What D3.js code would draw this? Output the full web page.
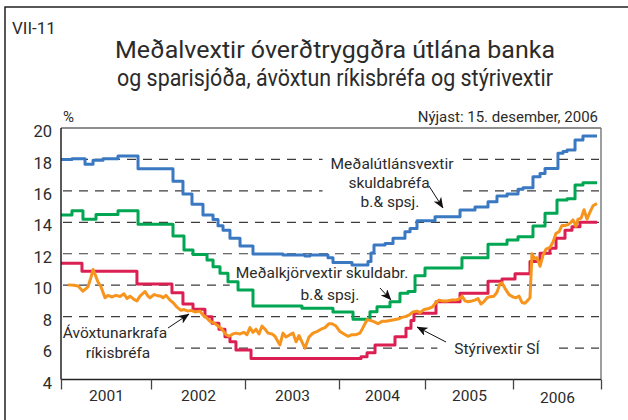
<!DOCTYPE html>
<html>
<head>
<meta charset="utf-8">
<script src="https://cdn.jsdelivr.net/npm/d3@7"></script>
<style>
  body { margin: 0; background: #fff; }
  svg { display: block; }
  text { font-family: Roboto, "Noto Sans", sans-serif; fill: #2b2b2b; }
</style>
</head>
<body>
<svg id="chart" width="628" height="420"></svg>
<script>
// ---- Data: interest rates (%) by decimal year ----
const yearEdges = [2001, 2002, 2003, 2004, 2005, 2006, 2007];
const yearLabels = ["2001", "2002", "2003", "2004", "2005", "2006"];
const yTicks = [4, 6, 8, 10, 12, 14, 16, 18, 20];
const gridValues = [6, 8, 10, 12, 14, 16, 18];

// Meðalútlánsvextir skuldabréfa b.& spsj. (step changes)
const lendingRate = [
  [2001.000, 18.0], [2001.122, 18.05], [2001.267, 17.7], [2001.356, 17.95],
  [2001.467, 18.05], [2001.633, 18.22], [2001.856, 17.4], [2002.234, 16.62],
  [2002.340, 15.8], [2002.436, 15.15], [2002.553, 14.46], [2002.660, 14.18],
  [2002.713, 13.78], [2002.766, 13.5], [2002.840, 12.98], [2002.947, 12.49],
  [2003.085, 11.98], [2003.404, 11.92], [2003.638, 11.85], [2003.691, 11.92],
  [2003.883, 11.75], [2003.936, 11.45], [2004.151, 11.28], [2004.337, 11.5],
  [2004.372, 12.05], [2004.407, 12.55], [2004.535, 12.65], [2004.628, 12.98],
  [2004.767, 13.4], [2004.826, 13.6], [2004.907, 14.1], [2005.114, 14.36],
  [2005.398, 14.78], [2005.568, 14.97], [2005.716, 15.31], [2005.818, 15.67],
  [2005.932, 15.8], [2006.057, 16.1], [2006.114, 16.2], [2006.227, 16.9],
  [2006.307, 17.1], [2006.364, 17.43], [2006.511, 18.39], [2006.568, 18.5],
  [2006.614, 18.6], [2006.705, 19.24], [2006.795, 19.49], [2006.955, 19.49]
];

// Meðalkjörvextir skuldabr. b.& spsj. (step changes)
const primeRate = [
  [2001.000, 14.46], [2001.122, 14.74], [2001.244, 14.19], [2001.389, 14.5],
  [2001.633, 14.74], [2001.856, 13.87], [2002.234, 13.13], [2002.351, 12.24],
  [2002.447, 11.95], [2002.596, 11.6], [2002.660, 11.18], [2002.734, 10.76],
  [2002.819, 10.22], [2002.926, 9.69], [2003.085, 8.68], [2003.606, 8.53],
  [2003.936, 8.3], [2004.163, 7.83], [2004.360, 8.31], [2004.442, 8.63],
  [2004.593, 8.95], [2004.709, 9.48], [2004.802, 9.6], [2004.884, 10.6],
  [2005.000, 11.1], [2005.420, 11.75], [2005.716, 12.6], [2005.932, 12.87],
  [2006.057, 13.08], [2006.227, 13.77], [2006.364, 14.57], [2006.500, 15.42],
  [2006.614, 15.5], [2006.705, 16.37], [2006.795, 16.52], [2006.955, 16.52]
];

// Stýrivextir SÍ (step changes)
const policyRate = [
  [2001.000, 11.39], [2001.233, 10.88], [2001.844, 10.07], [2002.223, 9.52],
  [2002.340, 8.8], [2002.447, 8.47], [2002.574, 8.0], [2002.649, 7.58],
  [2002.723, 7.2], [2002.787, 6.72], [2002.840, 6.4], [2002.904, 5.88],
  [2003.064, 5.33], [2004.256, 5.45], [2004.326, 5.7], [2004.419, 6.19],
  [2004.651, 6.72], [2004.779, 7.26], [2004.837, 7.75], [2004.872, 8.21],
  [2005.125, 8.95], [2005.398, 9.48], [2005.716, 10.25], [2005.875, 10.4],
  [2006.023, 10.72], [2006.193, 11.5], [2006.307, 12.03], [2006.420, 12.35],
  [2006.489, 12.98], [2006.591, 13.5], [2006.670, 13.72], [2006.761, 14.0],
  [2006.955, 14.0]
];

// Ávöxtunarkrafa ríkisbréfa (weekly yields)
const bondYield = [
  [2001.078, 10.02], [2001.144, 10.0], [2001.189, 9.95], [2001.244, 9.62],
  [2001.300, 9.9], [2001.333, 10.5], [2001.356, 11.0], [2001.378, 10.7],
  [2001.411, 10.2], [2001.444, 9.9], [2001.489, 9.2], [2001.522, 9.35],
  [2001.567, 9.25], [2001.611, 9.35], [2001.656, 9.28], [2001.700, 9.45],
  [2001.733, 9.15], [2001.767, 9.3], [2001.811, 9.1], [2001.844, 9.0],
  [2001.878, 9.3], [2001.933, 9.6], [2001.967, 9.3], [2001.989, 9.2],
  [2002.032, 9.4], [2002.064, 9.35], [2002.106, 9.3], [2002.128, 9.2],
  [2002.160, 9.35], [2002.202, 9.05], [2002.234, 8.9], [2002.277, 8.6],
  [2002.319, 8.4], [2002.351, 8.45], [2002.394, 8.35], [2002.426, 8.4],
  [2002.468, 8.3], [2002.521, 8.35], [2002.553, 8.1], [2002.596, 7.9],
  [2002.628, 7.7], [2002.670, 7.6], [2002.713, 7.4], [2002.755, 7.2],
  [2002.798, 6.85], [2002.830, 6.75], [2002.872, 6.9], [2002.904, 6.95],
  [2002.947, 6.9], [2002.989, 7.0], [2003.021, 6.85], [2003.053, 7.3],
  [2003.085, 7.0], [2003.117, 7.2], [2003.149, 6.9], [2003.181, 7.4],
  [2003.213, 7.2], [2003.245, 6.95], [2003.287, 6.9], [2003.319, 6.75],
  [2003.351, 6.4], [2003.372, 6.2], [2003.404, 6.95], [2003.436, 6.7],
  [2003.479, 6.85], [2003.511, 6.95], [2003.543, 6.4], [2003.574, 6.8],
  [2003.606, 6.4], [2003.638, 6.0], [2003.681, 6.7], [2003.723, 6.95],
  [2003.766, 7.05], [2003.809, 7.2], [2003.851, 7.3], [2003.894, 7.55],
  [2003.926, 7.55], [2003.968, 7.4], [2004.012, 7.05], [2004.058, 6.9],
  [2004.105, 6.75], [2004.151, 6.85], [2004.198, 6.85], [2004.244, 6.95],
  [2004.279, 7.3], [2004.326, 7.8], [2004.372, 7.75], [2004.419, 7.65],
  [2004.453, 7.55], [2004.500, 7.7], [2004.547, 7.7], [2004.593, 7.75],
  [2004.640, 7.8], [2004.686, 7.85], [2004.733, 7.95], [2004.767, 8.0],
  [2004.814, 8.1], [2004.860, 8.3], [2004.907, 8.35], [2004.942, 8.25],
  [2004.988, 8.45], [2005.034, 8.5], [2005.080, 8.6], [2005.125, 8.9],
  [2005.159, 9.05], [2005.205, 9.0], [2005.250, 9.0], [2005.295, 9.05],
  [2005.341, 9.05], [2005.386, 9.1], [2005.420, 9.3], [2005.455, 9.0],
  [2005.489, 8.95], [2005.534, 9.0], [2005.568, 9.05], [2005.602, 9.15],
  [2005.636, 8.8], [2005.670, 8.95], [2005.705, 9.2], [2005.739, 9.27],
  [2005.784, 9.3], [2005.818, 9.55], [2005.852, 10.1], [2005.875, 10.15],
  [2005.909, 9.8], [2005.955, 9.4], [2006.000, 9.25], [2006.034, 9.2],
  [2006.068, 9.3], [2006.102, 8.9], [2006.136, 8.85], [2006.170, 9.05],
  [2006.193, 9.2], [2006.216, 12.0], [2006.239, 11.7], [2006.273, 11.75],
  [2006.307, 11.2], [2006.341, 11.9], [2006.375, 12.3], [2006.420, 12.4],
  [2006.455, 12.75], [2006.489, 13.3], [2006.523, 13.4], [2006.557, 13.8],
  [2006.591, 13.8], [2006.625, 13.85], [2006.659, 14.0], [2006.682, 14.15],
  [2006.716, 13.75], [2006.739, 14.2], [2006.773, 14.25], [2006.807, 14.8],
  [2006.841, 14.2], [2006.875, 14.65], [2006.909, 15.05], [2006.955, 15.2]
];

// ---- Layout ----
const W = 628, H = 420;
const plot = { left: 61, right: 601, top: 128, bottom: 379.5 };
// year boundaries on the horizontal axis
const yearStops = [61, 151, 245, 339, 425, 513, 601];

const colors = {
  lending: "#3a78c2",
  prime: "#00a651",
  policy: "#dc1f52",
  bond: "#f7941d",
  grid: "#3c3c3c",
  axis: "#222",
  frame: "#6a6a6a"
};

const svg = d3.select("#chart");
svg.append("rect").attr("width", W).attr("height", H).attr("fill", "#fff");

const x = d3.scaleLinear().domain(yearEdges).range(yearStops);
const y = d3.scaleLinear().domain([4, 20]).range([plot.bottom, plot.top]);

// outer frame (top and left edges)
svg.append("path")
  .attr("d", `M5,${H} V7 H${W}`)
  .attr("fill", "none").attr("stroke", "#222").attr("stroke-width", 1.5);

// chart number and title
svg.append("text").attr("x", 12).attr("y", 34)
  .attr("font-size", 17).text("VII-11");
const title = svg.append("g");
title.append("text").attr("x", 115).attr("y", 58).attr("font-size", 24.5)
  .attr("textLength", 440).attr("lengthAdjust", "spacingAndGlyphs")
  .text("Meðalvextir óverðtryggðra útlána banka");
title.append("text").attr("x", 117).attr("y", 86).attr("font-size", 23)
  .attr("textLength", 436).attr("lengthAdjust", "spacingAndGlyphs")
  .text("og sparisjóða, ávöxtun ríkisbréfa og stýrivextir");

svg.append("text").attr("x", 63).attr("y", 122).attr("font-size", 15).text("%");
svg.append("text").attr("x", 598).attr("y", 122).attr("text-anchor", "end")
  .attr("font-size", 15).text("Nýjast: 15. desember, 2006");

// dashed gridlines
svg.append("g").selectAll("line").data(gridValues).join("line")
  .attr("x1", plot.left + 2).attr("x2", plot.right - 2)
  .attr("y1", d => y(d)).attr("y2", d => y(d))
  .attr("stroke", colors.grid).attr("stroke-width", 1.2)
  .attr("stroke-dasharray", "9,7");

// layers: label knock-out boxes sit under the lines, label text above
const boxLayer = svg.append("g");
const lineLayer = svg.append("g");
const axisLayer = svg.append("g");
const labelLayer = svg.append("g");

// series
const stepLine = d3.line().x(d => x(d[0])).y(d => y(d[1])).curve(d3.curveStepAfter);
const plainLine = d3.line().x(d => x(d[0])).y(d => y(d[1]));

[
  { data: policyRate, color: colors.policy, gen: stepLine },
  { data: primeRate, color: colors.prime, gen: stepLine },
  { data: lendingRate, color: colors.lending, gen: stepLine },
  { data: bondYield, color: colors.bond, gen: plainLine }
].forEach(s => {
  lineLayer.append("path").attr("d", s.gen(s.data))
    .attr("fill", "none").attr("stroke", s.color)
    .attr("stroke-width", 3).attr("stroke-linejoin", "round");
});

// plot frame
axisLayer.append("line").attr("x1", plot.left).attr("x2", plot.right)
  .attr("y1", plot.top).attr("y2", plot.top)
  .attr("stroke", colors.frame).attr("stroke-width", 1.3);
axisLayer.append("line").attr("x1", plot.right).attr("x2", plot.right)
  .attr("y1", plot.top).attr("y2", plot.bottom)
  .attr("stroke", colors.frame).attr("stroke-width", 1.3);
axisLayer.append("line").attr("x1", plot.left).attr("x2", plot.left)
  .attr("y1", plot.top).attr("y2", plot.bottom)
  .attr("stroke", colors.axis).attr("stroke-width", 1.5);
axisLayer.append("line").attr("x1", plot.left).attr("x2", plot.right)
  .attr("y1", plot.bottom).attr("y2", plot.bottom)
  .attr("stroke", colors.axis).attr("stroke-width", 1.3);

// x axis: tick marks at year boundaries
const xAxis = axisLayer.append("g").attr("transform", `translate(0,${plot.bottom})`)
  .call(d3.axisBottom(x).tickValues(yearEdges).tickSize(10).tickFormat(""));
xAxis.select(".domain").remove();
xAxis.selectAll(".tick line").attr("stroke", "#444").attr("stroke-width", 1.3);

// year labels centred in each year
const xLabels = axisLayer.append("g").attr("transform", `translate(0,${plot.bottom})`)
  .call(d3.axisBottom(x).tickValues(yearEdges.slice(0, -1).map(d => d + 0.5))
    .tickSize(0).tickPadding(9).tickFormat((d, i) => yearLabels[i]));
xLabels.select(".domain").remove();
xLabels.selectAll("text").attr("font-size", 15.5).attr("fill", "#2b2b2b")
  .attr("font-family", "Roboto, 'Noto Sans', sans-serif")
  .attr("dy", (d, i) => i === yearLabels.length - 1 ? "0.95em" : "0.8em");

// y axis labels
const yAxis = axisLayer.append("g").attr("transform", `translate(${plot.left},0)`)
  .call(d3.axisLeft(y).tickValues(yTicks).tickSize(0).tickPadding(9));
yAxis.select(".domain").remove();
yAxis.selectAll("text").attr("font-size", 16.5).attr("fill", "#2b2b2b")
  .attr("font-family", "Roboto, 'Noto Sans', sans-serif")
  .attr("dy", "0.52em");

// arrowhead
svg.append("defs").append("marker")
  .attr("id", "head").attr("viewBox", "0 0 11 9")
  .attr("refX", 10.5).attr("refY", 4.5)
  .attr("markerWidth", 11).attr("markerHeight", 9)
  .attr("markerUnits", "userSpaceOnUse").attr("orient", "auto")
  .append("path").attr("d", "M0,0 L11,4.5 L0,9 L3,4.5 Z").attr("fill", "#111");

function annotate(lines, padX, padY) {
  const g = labelLayer.append("g");
  lines.forEach(l => {
    g.append("text").attr("x", l.x).attr("y", l.y)
      .attr("text-anchor", "middle").attr("font-size", 15.5).text(l.t);
  });
  const b = g.node().getBBox();
  boxLayer.append("rect")
    .attr("x", b.x - padX).attr("y", b.y - padY)
    .attr("width", b.width + 2 * padX).attr("height", b.height + 2 * padY)
    .attr("fill", "#fff");
}

function arrow(x1, y1, x2, y2) {
  labelLayer.append("line")
    .attr("x1", x1).attr("y1", y1).attr("x2", x2).attr("y2", y2)
    .attr("stroke", "#111").attr("stroke-width", 1)
    .attr("marker-end", "url(#head)");
}

annotate([
  { t: "Meðalútlánsvextir", x: 392, y: 169 },
  { t: "skuldabréfa", x: 389, y: 188 },
  { t: "b.& spsj.", x: 390, y: 207 }
], 8, 1);
arrow(429, 186, 443, 208);

annotate([
  { t: "Meðalkjörvextir skuldabr.", x: 322, y: 278 },
  { t: "b.& spsj.", x: 330, y: 300 }
], 6, 1);
arrow(380, 288, 391, 300);

annotate([
  { t: "Ávöxtunarkrafa", x: 115, y: 338 },
  { t: "ríkisbréfa", x: 118, y: 358 }
], 6, 1);
arrow(168, 328, 189, 314);

annotate([
  { t: "Stýrivextir SÍ", x: 497, y: 354 }
], 17, 2);
arrow(446, 342, 417, 327);
</script>
</body>
</html>
